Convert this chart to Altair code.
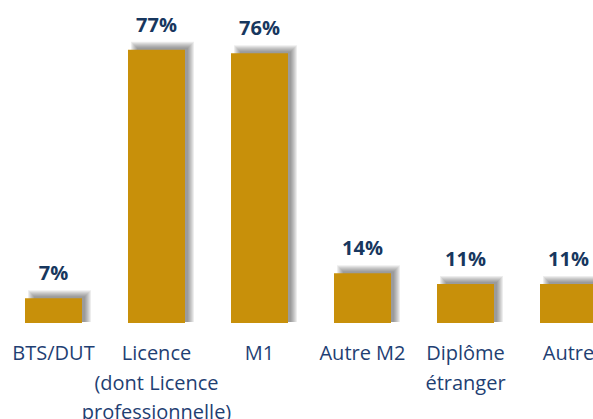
import altair as alt
import pandas as pd

keys = ["BTS/DUT", "Licence", "M1", "Autre M2", "Diplôme", "Autre"]
labels = ["BTS/DUT", "Licence\n(dont Licence\nprofessionnelle)", "M1", "Autre M2", "Diplôme\nétranger", "Autre"]
values = [7, 77, 76, 14, 11, 11]

df = pd.DataFrame({"key": keys, "label": labels, "value": values})
df["text"] = df["value"].astype(str) + "%"

BAR = "#C8900A"
NAVY = "#17375E"
CAT = "#1F3F73"
FONT = "Open Sans"

x = alt.X("key:N", sort=keys, axis=None,
          scale=alt.Scale(range=[2, 620], paddingInner=0, paddingOuter=0))
y = alt.Y("value:Q", axis=None, scale=alt.Scale(domain=[0, 91], range=[323, 0]))

base = alt.Chart(df)

shadows = []
for k in range(0, 7):
    shadows.append(
        base.mark_bar(color="#303030", opacity=0.085, width=51 + 2 * k,
                      xOffset=6, yOffset=-2 - k, y2Offset=-1)
        .encode(x=x, y=y, y2=alt.datum(0))
    )

bars = base.mark_bar(color=BAR, width=57).encode(x=x, y=y, y2=alt.datum(0))

vals = base.mark_text(font=FONT, fontSize=20, fontWeight="bold", color=NAVY,
                      baseline="alphabetic", dy=-18).encode(x=x, y=y, text="text:N")

cats = base.mark_text(font=FONT, fontSize=20, color=CAT, baseline="alphabetic",
                      lineBreak="\n", lineHeight=29.5).encode(
    x=x, y=alt.value(360), text="label:N")

chart = alt.layer(*shadows, bars, vals, cats).properties(
    width=593, height=419, autosize=alt.AutoSizeParams(type="none"),
    padding=0, background="white"
).configure_view(stroke=None)

chart.save("out.html", embed_options={"renderer": "svg", "actions": False})
